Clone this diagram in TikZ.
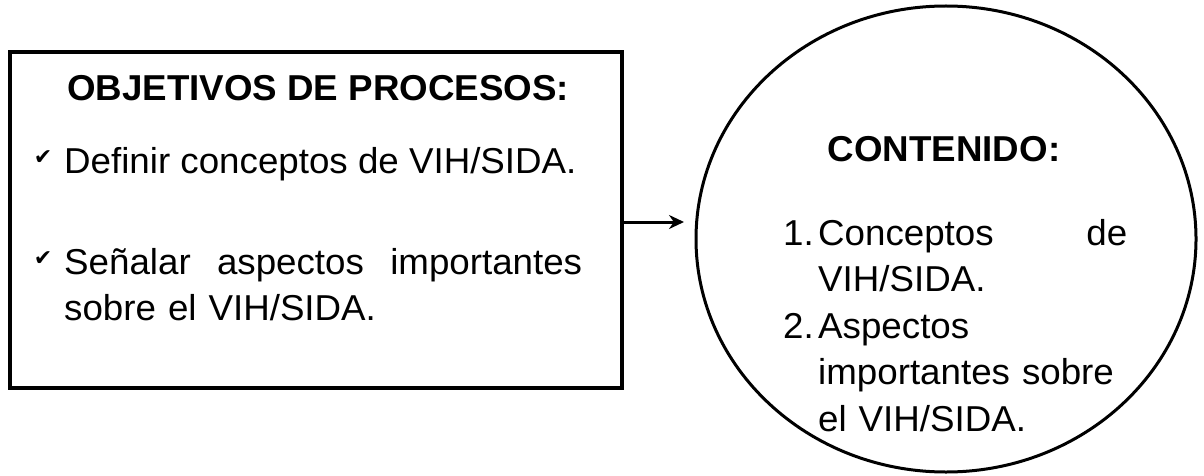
\documentclass[tikz,border=0pt]{standalone}
\usepackage{fontspec}
\setmainfont{Liberation Sans}[FakeStretch=1.02]
\newfontfamily\symfont{DejaVu Sans}
\usetikzlibrary{shapes.geometric,arrows.meta}
\begin{document}
\begin{tikzpicture}[x=1pt,y=-1pt,
  frame/.style={draw=black,line width=4pt,minimum width=612pt,minimum height=336pt,inner sep=0pt},
  oval/.style={ellipse,draw=black,line width=3pt,minimum width=500pt,minimum height=466pt,inner sep=0pt},
  txt/.style={inner sep=0pt,anchor=base west,font=\fontsize{36}{46.5}\selectfont},
  ttl/.style={inner sep=0pt,anchor=base,font=\fontsize{36}{47}\selectfont\bfseries},
  chk/.style={inner sep=0pt,anchor=center,font=\symfont\fontsize{22}{22}\selectfont},
  conn/.style={line width=3pt,-{Stealth[length=15pt,width=14pt]}}
]
\useasboundingbox (0,0) rectangle (1204,476);
\fill[white] (0,0) rectangle (1204,476);
% left box
\node[frame] (obj) at (316,220) {};
\node[ttl] (t1) at (318,101) {OBJETIVOS DE PROCESOS:};
\node[chk] (c1) at (43,158) {✔};
\node[txt] (i1) at (64,173) {Definir conceptos de VIH/SIDA.};
\node[chk] (c2) at (43,259) {✔};
\node[txt,text width=518pt,align=left] (i2) at (64,274) {Señalar\hfill aspectos\hfill importantes\\sobre el VIH/SIDA.};
% circle
\node[oval] (cont) at (946,239) {};
\node[ttl] (t2) at (944,161) {CONTENIDO:};
\node[txt,text width=344pt,align=left] (lst) at (783,245) {\makebox[35pt][l]{1.}Conceptos\hfill de\\
\hspace*{35pt}VIH/SIDA.\\
\makebox[35pt][l]{2.}Aspectos\\
\hspace*{35pt}importantes sobre\\
\hspace*{35pt}el VIH/SIDA.};
% connector
\coordinate (tip) at (684,222);
\draw[conn] (obj.east |- tip) -- (tip);
\end{tikzpicture}
\end{document}
